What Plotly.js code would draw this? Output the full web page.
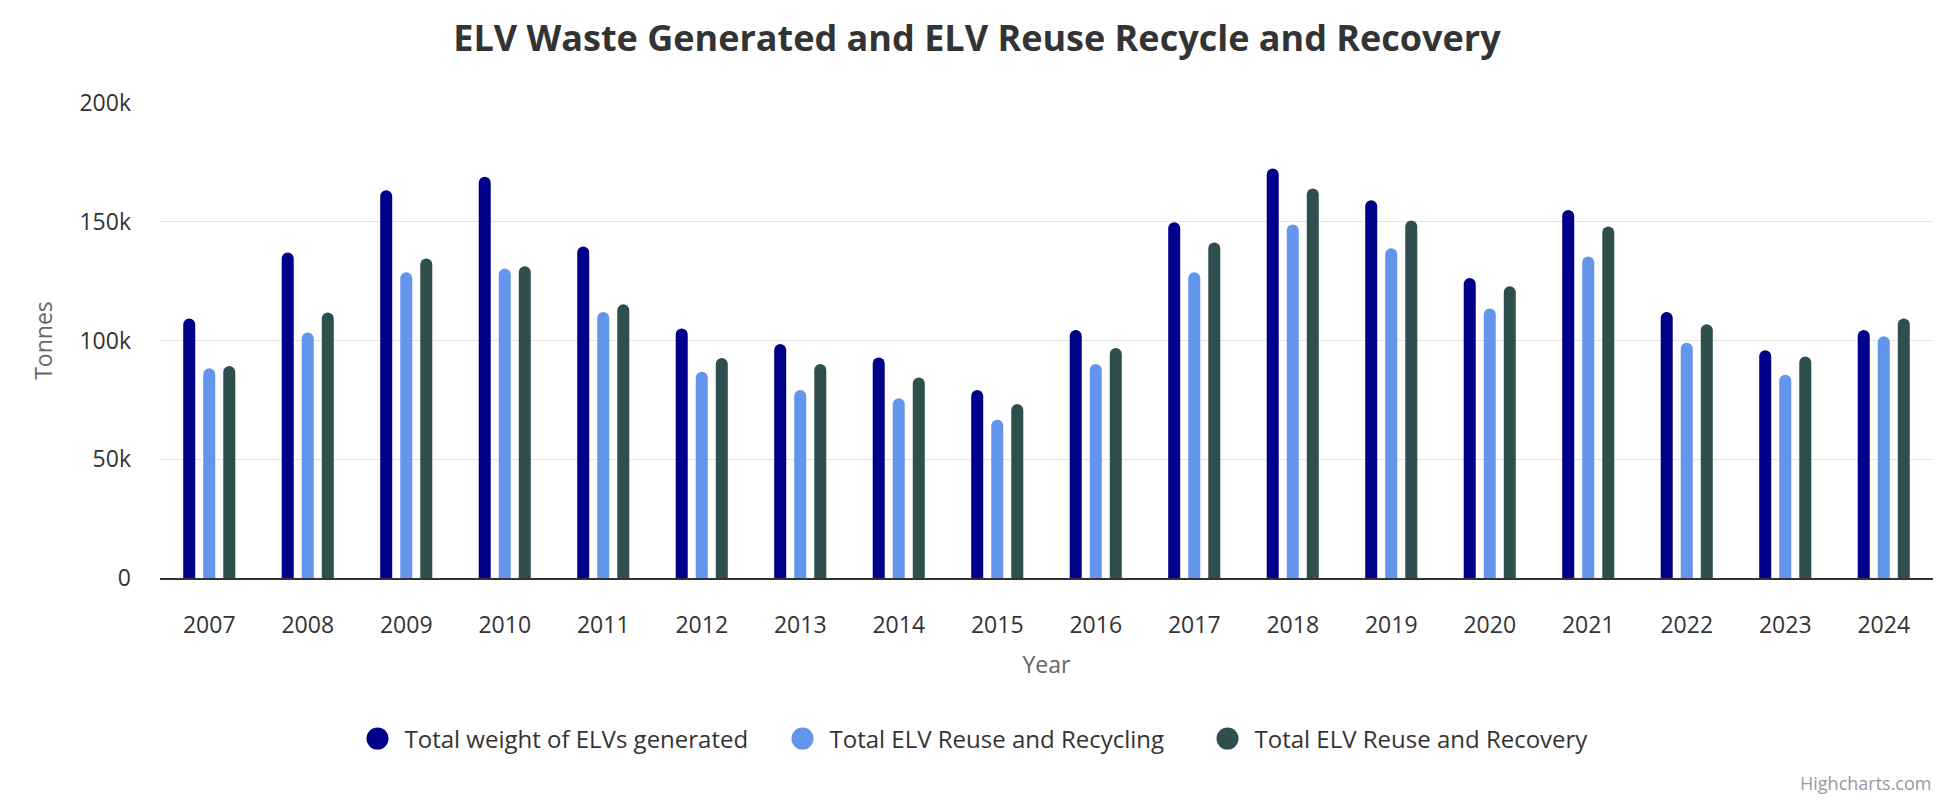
<!DOCTYPE html>
<html>
<head>
<meta charset="utf-8">
<script src="https://cdn.plot.ly/plotly-3.0.1.min.js"></script>
<style>
  html, body { margin: 0; padding: 0; background: #fff; }
  #chart { width: 1954px; height: 800px; }
</style>
</head>
<body>
<div id="chart"></div>
<script>
// Years on the category axis
const years = ['2007','2008','2009','2010','2011','2012','2013','2014','2015',
               '2016','2017','2018','2019','2020','2021','2022','2023','2024'];

// Tonnes per year
const elvGenerated = [109300, 137100, 163300, 169000, 139600, 105100, 98500, 92800, 79200,
                      104400, 149800, 172400, 159100, 126300, 154900, 112000, 95900, 104400];
const reuseRecycling = [88300, 103400, 128700, 130300, 112000, 86800, 79200, 75700, 66600,
                        90100, 128700, 148800, 138800, 113500, 135400, 99100, 85600, 101800];
const reuseRecovery = [89300, 111800, 134500, 131300, 115300, 92600, 90100, 84400, 73300,
                       96800, 141300, 164000, 150500, 122800, 148000, 106800, 93300, 109300];

const seriesNames = ['Total weight of ELVs generated', 'Total ELV Reuse and Recycling', 'Total ELV Reuse and Recovery'];
const seriesColors = ['#00008B', '#6495ED', '#2F4F4F'];
const seriesValues = [elvGenerated, reuseRecycling, reuseRecovery];

const FONT = '"Open Sans", "Noto Sans", sans-serif';

const traces = [];
seriesValues.forEach((vals, i) => {
  traces.push({
    type: 'bar',
    x: years,
    y: vals,
    name: seriesNames[i],
    marker: { color: seriesColors[i], cornerradius: 6, line: { width: 0 } },
    showlegend: false,
    hoverinfo: 'skip'
  });
});
// Legend entries with round symbols
seriesNames.forEach((name, i) => {
  traces.push({
    type: 'scatter',
    mode: 'markers',
    x: [null],
    y: [null],
    name: name,
    marker: { color: seriesColors[i], size: 22, symbol: 'circle' },
    showlegend: true,
    hoverinfo: 'skip'
  });
});

const layout = {
  width: 1954,
  height: 800,
  paper_bgcolor: '#ffffff',
  plot_bgcolor: '#ffffff',
  margin: { l: 160, r: 21, t: 103, b: 222 },
  font: { family: FONT, color: '#333333', size: 22 },
  title: {
    text: '<b>ELV Waste Generated and ELV Reuse Recycle and Recovery</b>',
    font: { family: FONT, size: 36, color: '#333333' },
    x: 0.5, xanchor: 'center',
    y: 1 - 38 / 800, yref: 'container', yanchor: 'middle'
  },
  barmode: 'group',
  bargap: 0.39,
  bargroupgap: 0.4,
  xaxis: {
    type: 'category',
    showgrid: false,
    showline: true,
    linecolor: '#333333',
    linewidth: 2,
    ticks: '',
    ticklabelstandoff: 25,
    tickfont: { family: FONT, size: 23, color: '#333333' },
    title: { text: 'Year', font: { family: FONT, size: 23, color: '#666666' }, standoff: 18 },
    fixedrange: true
  },
  yaxis: {
    range: [0, 200000],
    tickvals: [0, 50000, 100000, 150000, 200000],
    ticktext: ['0', '50k', '100k', '150k', '200k'],
    showgrid: true,
    gridcolor: '#e3e3e3',
    gridwidth: 1,
    zeroline: false,
    showline: false,
    ticks: '',
    ticklabelstandoff: 28,
    tickfont: { family: FONT, size: 23, color: '#333333' },
    title: { text: 'Tonnes', font: { family: FONT, size: 23, color: '#666666' }, standoff: 20 },
    fixedrange: true
  },
  legend: {
    orientation: 'h',
    x: (1002 - 160) / 1773, xanchor: 'center',
    y: (578 - 739) / 475, yanchor: 'middle',
    font: { family: FONT, size: 24, color: '#333333' },
    itemsizing: 'trace',
    entrywidth: 380,
    entrywidthmode: 'pixels',
    bgcolor: 'rgba(0,0,0,0)'
  },
  annotations: [{
    text: 'Highcharts.com',
    xref: 'paper', yref: 'paper',
    x: 1, xanchor: 'right',
    y: (578 - 783) / 475, yanchor: 'middle',
    showarrow: false,
    font: { family: FONT, size: 18, color: '#999999' }
  }]
};

Plotly.newPlot('chart', traces, layout, { staticPlot: true, displayModeBar: false }).then(gd => {
  // Larger round legend symbols, nudged toward the label
  gd.querySelectorAll('.legend .legendpoints path.scatterpts').forEach(p => {
    p.setAttribute('d', 'M4,0A11,11 0 1,1 -7,-11A11,11 0 0,1 4,0Z');
  });
});
</script>
</body>
</html>
